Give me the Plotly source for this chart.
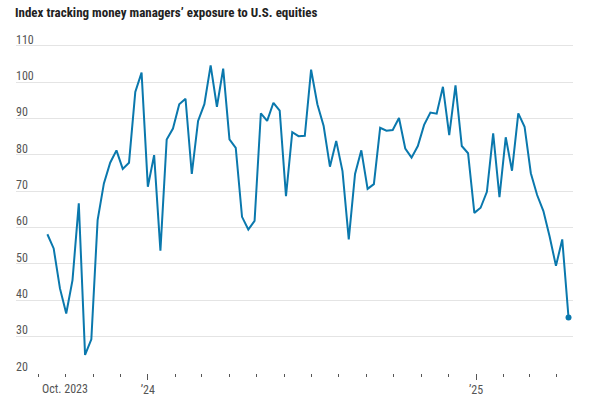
import plotly.graph_objects as go

dates = [
    "2023-09-11", "2023-09-18", "2023-09-25", "2023-10-02", "2023-10-09", "2023-10-16",
    "2023-10-23", "2023-10-30", "2023-11-06", "2023-11-13", "2023-11-20", "2023-11-27",
    "2023-12-04", "2023-12-11", "2023-12-18", "2023-12-25",
    "2024-01-01", "2024-01-08", "2024-01-15", "2024-01-22", "2024-01-29", "2024-02-05",
    "2024-02-12", "2024-02-19", "2024-02-26", "2024-03-04", "2024-03-11", "2024-03-18",
    "2024-03-25", "2024-04-01", "2024-04-08", "2024-04-15", "2024-04-22", "2024-04-29",
    "2024-05-06", "2024-05-13", "2024-05-20", "2024-05-27", "2024-06-03", "2024-06-10",
    "2024-06-17", "2024-06-24", "2024-07-01", "2024-07-08", "2024-07-15", "2024-07-22",
    "2024-07-29", "2024-08-05", "2024-08-12", "2024-08-19", "2024-08-26", "2024-09-02",
    "2024-09-09", "2024-09-16", "2024-09-23", "2024-09-30", "2024-10-07", "2024-10-14",
    "2024-10-21", "2024-10-28", "2024-11-04", "2024-11-11", "2024-11-18", "2024-11-25",
    "2024-12-02", "2024-12-09", "2024-12-16", "2024-12-23", "2024-12-30",
    "2025-01-06", "2025-01-13", "2025-01-20", "2025-01-27", "2025-02-03", "2025-02-10",
    "2025-02-17", "2025-02-24", "2025-03-03", "2025-03-10", "2025-03-17", "2025-03-24",
    "2025-03-31", "2025-04-07", "2025-04-14",
]

exposure = [
    58.1, 54.2, 43.2, 36.3, 45.5, 66.6, 24.9, 29.2, 62.0, 72.1, 77.8, 81.2,
    76.1, 77.8, 97.3, 102.6,
    71.2, 79.9, 53.6, 84.2, 87.2, 93.9, 95.4, 74.7, 89.3, 93.9, 104.6, 93.2,
    103.7, 84.2, 81.9, 62.9, 59.4, 61.8, 91.4, 89.3, 94.3, 92.1, 68.6, 86.2,
    85.1, 85.2, 103.4, 93.9, 87.9, 76.7, 83.8, 75.5, 56.7, 74.7, 81.2, 70.6,
    71.9, 87.4, 86.6, 86.8, 90.1, 81.7, 79.2, 82.4, 88.2, 91.6, 91.3, 98.7,
    85.4, 99.1, 82.4, 80.4, 64.0,
    65.4, 69.8, 85.9, 68.3, 84.8, 75.6, 91.4, 87.7, 74.9, 68.9, 64.5, 57.4,
    49.4, 56.7, 35.2,
]

title_text = "Index tracking money managers\u2019 exposure to U.S. equities"
y_ticks = [20, 30, 40, 50, 60, 70, 80, 90, 100, 110]
x_major_vals = ["2024-01-01", "2025-01-01"]
x_major_text = ["\u201924", "\u201925"]
oct_label_date = "2023-10-01"
oct_label_text = "Oct. 2023"

LINE = "#0a78ad"
GRID = "#e4e4e4"
TXT = "#555555"
FONT = "Liberation Sans Narrow, Roboto Condensed, Arial Narrow, sans-serif"

fig = go.Figure()
fig.add_trace(go.Scatter(
    x=dates, y=exposure, mode="lines",
    line=dict(color=LINE, width=2),
    hoverinfo="skip", showlegend=False,
))
fig.add_trace(go.Scatter(
    x=[dates[-1]], y=[exposure[-1]], mode="markers",
    marker=dict(color=LINE, size=6),
    hoverinfo="skip", showlegend=False,
))

annotations = [dict(
    x=oct_label_date, xref="x", y=0, yref="paper",
    yshift=-7, text=oct_label_text, showarrow=False,
    xanchor="center", yanchor="top",
    font=dict(family=FONT, size=12, color=TXT),
)]
for v in y_ticks:
    annotations.append(dict(
        x=0, xref="paper", y=v, yref="y",
        text=str(v), showarrow=False,
        xanchor="left", yanchor="middle",
        xshift=-2, yshift=6,
        font=dict(family=FONT, size=12, color=TXT),
    ))

fig.update_layout(
    width=590, height=399,
    margin=dict(l=16, r=17, t=35, b=26, autoexpand=False),
    paper_bgcolor="white", plot_bgcolor="white",
    font=dict(family=FONT, size=12, color=TXT),
    title=dict(
        text="<b>" + title_text + "</b>",
        x=15 / 590, xanchor="left", xref="container",
        y=1 - 12 / 399, yanchor="middle", yref="container",
        font=dict(family=FONT, size=13, color="#222222"),
    ),
    xaxis=dict(
        type="date", automargin=False,
        range=["2023-08-07", "2025-04-19"],
        tickvals=x_major_vals, ticktext=x_major_text,
        ticks="outside", ticklen=6, tickcolor="#555555", tickwidth=1,
        showgrid=False, showline=False, zeroline=False,
        tickfont=dict(family=FONT, size=12, color=TXT),
        minor=dict(dtick="M1", tick0="2023-10-01", ticks="outside", ticklen=3,
                   tickcolor="#555555", tickwidth=1, showgrid=False),
    ),
    yaxis=dict(
        automargin=False,
        range=[19.92, 112.95],
        tickvals=y_ticks,
        showticklabels=False,
        showgrid=True, gridcolor=GRID, gridwidth=1,
        zeroline=False, showline=False, ticks="",
    ),
    annotations=annotations,
)

fig.write_html(
    "out.html",
    config={"displayModeBar": False, "staticPlot": True},
    post_script="document.body.style.margin='0';document.body.style.padding='0';",
)
